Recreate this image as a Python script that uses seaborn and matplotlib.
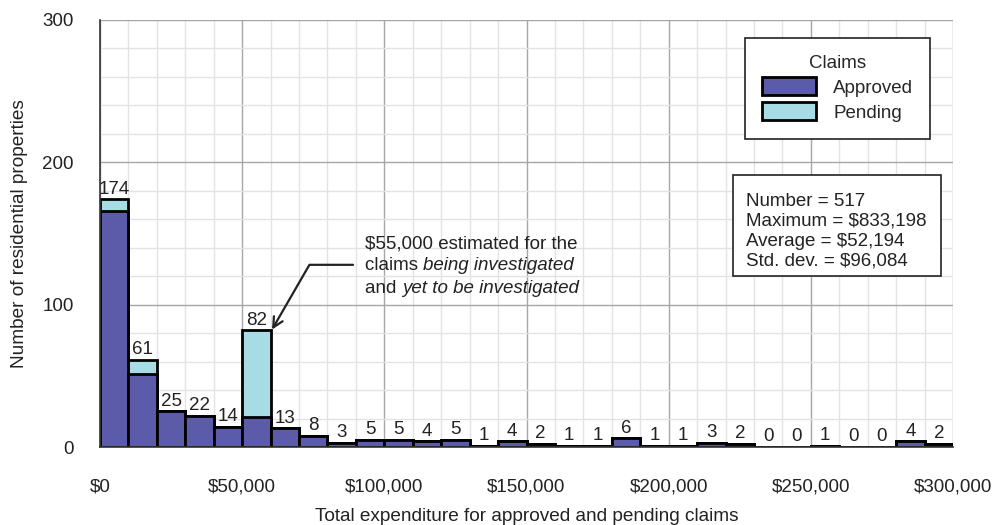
import numpy as np
import matplotlib.pyplot as plt
from matplotlib.patches import Patch, Rectangle
from matplotlib.ticker import MultipleLocator, FuncFormatter
import seaborn as sns

# Histogram bins: $10,000 wide, $0 to $300,000
bin_start = list(range(0, 300000, 10000))
approved = [166, 51, 25, 22, 14, 21, 13, 8, 3, 5, 5, 4, 5, 1, 4, 2, 1, 1, 6, 1,
            1, 3, 2, 0, 0, 1, 0, 0, 4, 2]
pending = [8, 10, 0, 0, 0, 61, 0, 0, 0, 0, 0, 0, 0, 0, 0, 0, 0, 0, 0, 0,
           0, 0, 0, 0, 0, 0, 0, 0, 0, 0]
stats_lines = ["Number = 517", "Maximum = $833,198", "Average = $52,194", "Std. dev. = $96,084"]

APPROVED_COLOR = "#5b5ba9"
PENDING_COLOR = "#a8dce4"
TXT = "#222222"
FS = 13.5

sns.set_style("white")
plt.rcParams['font.family'] = ['Liberation Sans', 'DejaVu Sans']
plt.rcParams['text.parse_math'] = False

bin_mid = np.array(bin_start) + 5000
total = np.array(approved) + np.array(pending)

fig = plt.figure(figsize=(9.96, 5.25), dpi=100)
ax = fig.add_axes([100 / 996, 78 / 525, 853 / 996, 427 / 525])

# total first (pending colour), approved drawn over it
sns.histplot(x=bin_mid, weights=total, binwidth=10000, binrange=(0, 300000),
             color=PENDING_COLOR, edgecolor="black", linewidth=2, alpha=1, ax=ax)
sns.histplot(x=bin_mid, weights=approved, binwidth=10000, binrange=(0, 300000),
             color=APPROVED_COLOR, edgecolor="black", linewidth=2, alpha=1, ax=ax)

for xm, t in zip(bin_mid, total):
    ax.text(xm, t + 1.2, str(t), ha="center", va="bottom", fontsize=FS, color=TXT)

ax.set_xlim(0, 300000)
ax.set_ylim(0, 300)
ax.xaxis.set_major_locator(MultipleLocator(50000))
ax.xaxis.set_minor_locator(MultipleLocator(10000))
ax.yaxis.set_major_locator(MultipleLocator(100))
ax.yaxis.set_minor_locator(MultipleLocator(20))
ax.xaxis.set_major_formatter(FuncFormatter(lambda v, p: "${:,.0f}".format(v)))

ax.set_axisbelow(True)
ax.grid(which="major", color="#a6a6a6", linewidth=1)
ax.grid(which="minor", color="#e3e3e3", linewidth=1)

for s in ["top", "right"]:
    ax.spines[s].set_visible(False)
for s in ["left", "bottom"]:
    ax.spines[s].set_color("#333333")
    ax.spines[s].set_linewidth(1.2)

ax.tick_params(axis="x", which="major", direction="out", length=9.5, width=1, colors="#333333",
               labelsize=FS, labelcolor=TXT, pad=13)
ax.tick_params(axis="x", which="minor", direction="out", length=4, width=1, colors="#333333")
ax.tick_params(axis="y", which="major", direction="inout", length=20, width=1, colors="#333333",
               labelsize=FS, labelcolor=TXT, pad=9)
ax.tick_params(axis="y", which="minor", direction="in", length=7, width=1, colors="#333333")

ax.set_xlabel("Total expenditure for approved and pending claims", fontsize=13.7, color=TXT, labelpad=9.5)
ax.set_ylabel("Number of residential properties", fontsize=13.7, color=TXT, labelpad=10)

# legend
handles = [Patch(facecolor=APPROVED_COLOR, edgecolor="black", linewidth=2, label="Approved"),
           Patch(facecolor=PENDING_COLOR, edgecolor="black", linewidth=2, label="Pending")]
leg = ax.legend(handles=handles, title="Claims", loc="upper right", bbox_to_anchor=(0.973, 0.958),
                borderaxespad=0, fontsize=FS, title_fontsize=FS, handlelength=2.9,
                handleheight=1.1, handletextpad=0.9, borderpad=0.9, labelspacing=0.3,
                fancybox=False, framealpha=1, edgecolor=TXT)
leg.get_frame().set_linewidth(1.2)

# statistics box
ax.add_patch(Rectangle((0.742, 0.4005), 0.244, 0.2365, transform=ax.transAxes,
                       facecolor="white", edgecolor=TXT, linewidth=1.2, zorder=4))
ax.text(0.757, 0.594, "\n".join(stats_lines), transform=ax.transAxes, ha="left", va="top",
        fontsize=FS, linespacing=1.2, color=TXT, zorder=5)

# annotation for pending bar
tx = 93200
ax.text(tx, 142.6, "$55,000 estimated for the", fontsize=FS, va="center", ha="left", color=TXT)
t2 = ax.text(tx, 127.2, "claims ", fontsize=FS, va="center", ha="left", color=TXT)
ax.annotate("being investigated", xy=(1, 0), xycoords=t2, va="bottom", ha="left",
            fontsize=FS, style="italic", color=TXT)
t3 = ax.text(tx, 111.7, "and ", fontsize=FS, va="center", ha="left", color=TXT)
ax.annotate("yet to be investigated", xy=(1, 0), xycoords=t3, va="bottom", ha="left",
            fontsize=FS, style="italic", color=TXT)
ax.annotate("", xy=(60500, 82.5), xytext=(89000, 128),
            arrowprops=dict(arrowstyle="->", color=TXT, linewidth=1.6,
                            connectionstyle="angle,angleA=0,angleB=60,rad=0",
                            shrinkA=0, shrinkB=0, mutation_scale=18))

fig.savefig("out.png", dpi=100)
